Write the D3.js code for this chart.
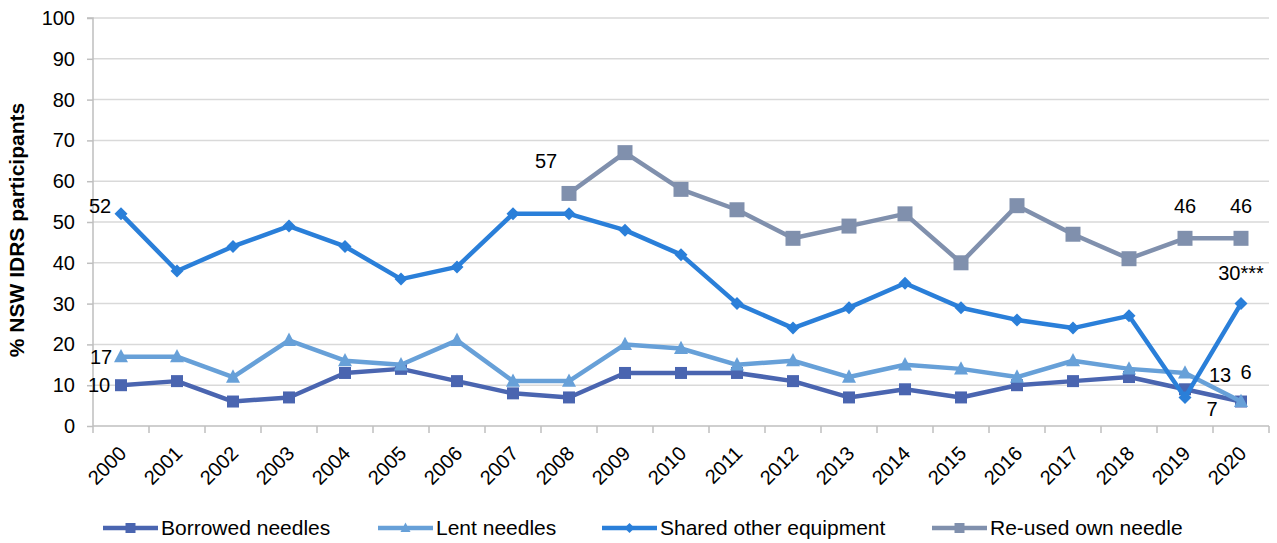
<!DOCTYPE html>
<html>
<head>
<meta charset="utf-8">
<script src="https://cdn.jsdelivr.net/npm/d3@7"></script>
<style>
  body { margin: 0; background: #fff; }
  text { font-family: "Liberation Sans", Arial, sans-serif; fill: #000; }
</style>
</head>
<body>
<div id="chart-area"></div>
<script>
// chart data
const YEARS = ["2000","2001","2002","2003","2004","2005","2006","2007","2008","2009","2010",
  "2011","2012","2013","2014","2015","2016","2017","2018","2019","2020"]
const BORROWED = [10,11,6,7,13,14,11,8,7,13,13,13,11,7,9,7,10,11,12,9,6]
const LENT = [17,17,12,21,16,15,21,11,11,20,19,15,16,12,15,14,12,16,14,13,6]
const SHARED = [52,38,44,49,44,36,39,52,52,48,42,30,24,29,35,29,26,24,27,7,30]
const REUSED = [null,null,null,null,null,null,null,null,57,67,58,53,46,49,52,40,54,47,41,46,46]
const Y_TICKS = [0,10,20,30,40,50,60,70,80,90,100]
const SERIES_NAMES = ["Borrowed needles", "Lent needles", "Shared other equipment", "Re-used own needle"]

const W = 1277, H = 543
const MARGIN = { LEFT: 93, RIGHT: 8, TOP: 18, BOTTOM: 117 }
const WIDTH = W - MARGIN.LEFT - MARGIN.RIGHT
const HEIGHT = H - MARGIN.TOP - MARGIN.BOTTOM
const FONT = "20px"

const series = [
  { name: SERIES_NAMES[0], values: BORROWED, color: "#4a65b0", marker: "square", size: 12 },
  { name: SERIES_NAMES[1], values: LENT, color: "#67a0d8", marker: "triangle", size: 14 },
  { name: SERIES_NAMES[2], values: SHARED, color: "#2a7fd9", marker: "diamond", size: 13 },
  { name: SERIES_NAMES[3], values: REUSED, color: "#8090ad", marker: "square", size: 15 }
]

const svg = d3.select("#chart-area").append("svg")
  .attr("width", W).attr("height", H)

const chart = svg.append("g")
  .attr("transform", `translate(${MARGIN.LEFT}, ${MARGIN.TOP})`)

const x = d3.scaleBand().domain(YEARS).range([0, WIDTH])
const y = d3.scaleLinear().domain([0, 100]).range([HEIGHT, 0])
const cx = d => x(d) + x.bandwidth() / 2

// gridlines
chart.append("g").selectAll("line").data(Y_TICKS.slice(1)).enter().append("line")
  .attr("x1", 0).attr("x2", WIDTH)
  .attr("y1", d => y(d)).attr("y2", d => y(d))
  .attr("stroke", "#d9d9d9").attr("stroke-width", 1.5)

// y axis
const yAxis = chart.append("g").call(d3.axisLeft(y).tickValues(Y_TICKS).tickSize(6).tickPadding(12))
yAxis.select(".domain").attr("stroke", "#bfbfbf").attr("stroke-width", 1.5).attr("d", `M-6,${y(100)}H0V${HEIGHT}`)
yAxis.selectAll(".tick line").attr("stroke", "#bfbfbf").attr("stroke-width", 1.5)
yAxis.selectAll(".tick text").style("font-size", FONT).attr("fill", "#000").attr("font-family", "Liberation Sans, Arial, sans-serif")

// x axis
const xAxisGroup = chart.append("g").attr("transform", `translate(0, ${HEIGHT})`)
xAxisGroup.append("line").attr("x1", 0).attr("x2", WIDTH).attr("y1", 0).attr("y2", 0)
  .attr("stroke", "#bfbfbf").attr("stroke-width", 1.5)
xAxisGroup.selectAll(".xtick").data(YEARS.concat(["_end"])).enter().append("line")
  .attr("x1", (d, i) => i * x.bandwidth()).attr("x2", (d, i) => i * x.bandwidth())
  .attr("y1", 0).attr("y2", 7)
  .attr("stroke", "#bfbfbf").attr("stroke-width", 1.5)
xAxisGroup.selectAll(".xlabel").data(YEARS).enter().append("text")
  .attr("transform", d => `translate(${cx(d) - 4}, 18) rotate(-45)`)
  .attr("text-anchor", "end")
  .attr("dy", "0.75em")
  .style("font-size", FONT)
  .text(d => d)

// y title
svg.append("text")
  .attr("transform", `translate(24, ${MARGIN.TOP + HEIGHT / 2 + 8}) rotate(-90)`)
  .attr("text-anchor", "middle")
  .style("font-size", "21px").style("font-weight", "bold")
  .text("% NSW IDRS participants")

function markerPath(type, s) {
  const h = s / 2
  if (type === "square") return `M${-h},${-h}H${h}V${h}H${-h}Z`
  if (type === "diamond") return `M0,${-h}L${h},0L0,${h}L${-h},0Z`
  return `M0,${-h * 1.1}L${h},${h * 0.8}L${-h},${h * 0.8}Z`
}

const line = d3.line()
  .defined(d => d.v !== null)
  .x(d => cx(d.year))
  .y(d => y(d.v))

series.forEach(s => {
  const pts = YEARS.map((yr, i) => ({ year: yr, v: s.values[i] }))
  chart.append("path").datum(pts)
    .attr("d", line)
    .attr("fill", "none")
    .attr("stroke", s.color)
    .attr("stroke-width", 4.5)
    .attr("stroke-linejoin", "round")
  chart.append("g").selectAll("path").data(pts.filter(d => d.v !== null)).enter().append("path")
    .attr("transform", d => `translate(${cx(d.year)}, ${y(d.v)})`)
    .attr("d", markerPath(s.marker, s.size))
    .attr("fill", s.color)
})

// data labels
const LABELS = [
  { s: 2, i: 0, text: String(SHARED[0]), dx: -21, dy: -8 },
  { s: 1, i: 0, text: String(LENT[0]), dx: -20, dy: 0 },
  { s: 0, i: 0, text: String(BORROWED[0]), dx: -22, dy: 0 },
  { s: 3, i: 8, text: String(REUSED[8]), dx: -23, dy: -32 },
  { s: 3, i: 19, text: String(REUSED[19]), dx: 0, dy: -32 },
  { s: 3, i: 20, text: String(REUSED[20]), dx: 0, dy: -32 },
  { s: 2, i: 20, text: SHARED[20] + "***", dx: 0, dy: -31 },
  { s: 1, i: 19, text: String(LENT[19]), dx: 35, dy: 2 },
  { s: 2, i: 19, text: String(SHARED[19]), dx: 27, dy: 12 },
  { s: 0, i: 20, text: String(BORROWED[20]), dx: 5, dy: -30 }
]
chart.append("g").selectAll("text").data(LABELS).enter().append("text")
  .attr("x", d => cx(YEARS[d.i]) + d.dx)
  .attr("y", d => y(series[d.s].values[d.i]) + d.dy)
  .attr("text-anchor", "middle")
  .attr("dy", "0.35em")
  .style("font-size", FONT)
  .text(d => d.text)

// legend
const LEGEND_X = [103, 378, 602, 932]
const legend = svg.append("g").attr("transform", "translate(0, 528)")
series.forEach((s, i) => {
  const g = legend.append("g").attr("transform", `translate(${LEGEND_X[i]}, 0)`)
  g.append("line").attr("x1", 0).attr("x2", 55).attr("y1", 0).attr("y2", 0)
    .attr("stroke", s.color).attr("stroke-width", 4.5)
  g.append("path").attr("transform", "translate(27.5, 0)")
    .attr("d", markerPath(s.marker, 10)).attr("fill", s.color)
  g.append("text").attr("x", 58).attr("dy", "0.35em")
    .style("font-size", "21px").text(s.name)
})
</script>
</body>
</html>
